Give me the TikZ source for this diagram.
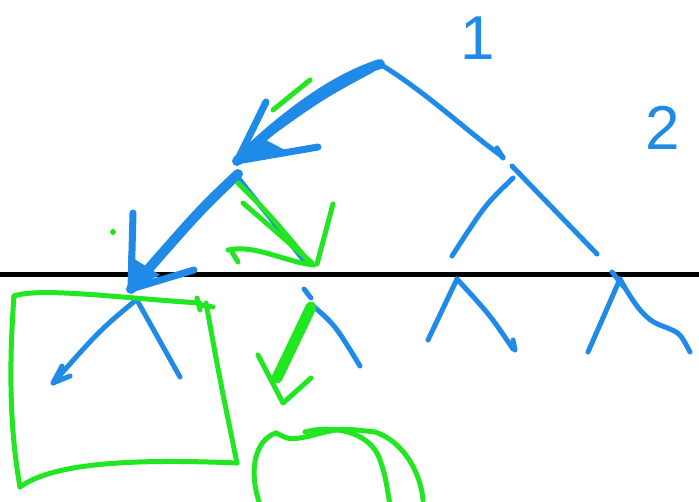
\documentclass[tikz,border=0pt]{standalone}
\usepackage{fontspec}
\setsansfont{Liberation Sans}
\definecolor{skyb}{RGB}{32,138,232}
\definecolor{limeg}{RGB}{34,230,34}
\begin{document}
\begin{tikzpicture}[x=1pt,y=-1pt,line cap=round,line join=round,
  bl/.style={draw=skyb,line width=5pt},
  blthick/.style={draw=skyb,line width=10pt},
  gr/.style={draw=limeg,line width=5pt},
  grthick/.style={draw=limeg,line width=11pt},
  digit/.style={text=skyb,font=\sffamily\fontsize{62}{62}\selectfont,inner sep=0pt}]
\useasboundingbox (0,0) rectangle (699,501);
\fill[white] (0,0) rectangle (699,501);
% tree points
\coordinate (root) at (380,64);
\coordinate (L) at (237,161);
\coordinate (R) at (512,166);
\coordinate (LL) at (131,289);
\coordinate (LR) at (308,292);
\coordinate (RL) at (457,279);
\coordinate (RR) at (620,279);
\coordinate (hl) at (0,274);
\coordinate (hr) at (699,274);
% black line
\draw[line width=5pt,line cap=butt] (hl) -- (hr);
% labels
\node[digit] (one) at (478,38) {1};
\node[digit] (two) at (663,128) {2};
% root -> right child
\draw[bl] (root) .. controls (430,95) and (465,130) .. (503,157);
\draw[bl] (497,148) -- (503,158);
% root -> left child (bold arrow)
\draw[blthick] (root) .. controls (330,80) and (280,120) .. (L);
\draw[bl] (372,70) .. controls (320,98) .. (248,150);
\draw[bl,line width=7pt] (L) -- (266,102);
\draw[bl,line width=7pt] (L) -- (318,147);
\fill[skyb] (L) -- (262,138) -- (285,150) -- cycle;
% left child -> LL (bold arrow)
\draw[blthick] (238,174) .. controls (200,210) .. (LL);
\draw[bl,line width=7pt] (133,213) -- (LL);
\draw[bl,line width=7pt] (194,270) -- (LL);
\fill[skyb] (LL) -- (128,255) -- (160,275) -- cycle;
% left child -> LR
\draw[bl] (240,180) -- (305,262);
% right child subtree
\draw[bl] (R) -- (597,254);
\draw[bl] (513,178) .. controls (485,205) .. (452,256);
% lower level
\draw[bl] (136,300) .. controls (100,330) .. (53,383);
\draw[bl] (62,366) -- (53,383) -- (70,376);
\draw[bl] (138,302) -- (180,377);
\draw[bl] (304,289) -- (311,298);
\draw[bl] (312,305) .. controls (335,325) .. (360,366);
\draw[bl] (RL) -- (428,340);
\draw[bl] (RL) .. controls (490,315) .. (513,349);
\draw[bl] (513,340) -- (515,350);
\draw[bl] (612,272) -- (624,287);
\draw[bl] (RR) -- (588,352);
\draw[bl] (RR) .. controls (640,315) and (650,322) .. (665,327) .. controls (680,333) .. (690,352);
% green marks
\draw[gr] (273,110) -- (310,80);
\fill[limeg] (113,232) circle (3);
\draw[gr] (238,183) .. controls (270,215) .. (310,263);
\draw[gr] (243,203) .. controls (280,235) .. (312,263);
\draw[gr] (228,250) .. controls (255,244) and (285,262) .. (314,265);
\draw[gr] (232,252) -- (238,262);
\draw[gr] (333,204) -- (317,264);
% green box
\draw[gr] (14,296) .. controls (40,287) and (120,298) .. (200,303);
\draw[gr] (197,298) -- (200,310);
\draw[gr] (200,305) -- (213,307);
\draw[gr] (206,303) .. controls (220,380) .. (237,463);
\draw[gr] (237,463) .. controls (120,458) and (50,465) .. (20,487);
\draw[gr] (20,487) .. controls (8,420) and (10,350) .. (14,296);
% green check arrow
\draw[grthick] (LR) ++ (3,15) -- (277,378);
\draw[gr] (258,355) -- (283,403) -- (311,378);
% green blob
\draw[gr] (276,433) .. controls (255,440) and (248,470) .. (260,505);
\draw[gr] (276,433) .. controls (290,440) .. (310,436) .. controls (340,428) .. (375,432) .. controls (400,440) and (420,468) .. (423,500);
\draw[gr] (305,432) .. controls (330,425) and (370,430) .. (380,460) .. controls (385,475) .. (390,505);
\end{tikzpicture}
\end{document}
